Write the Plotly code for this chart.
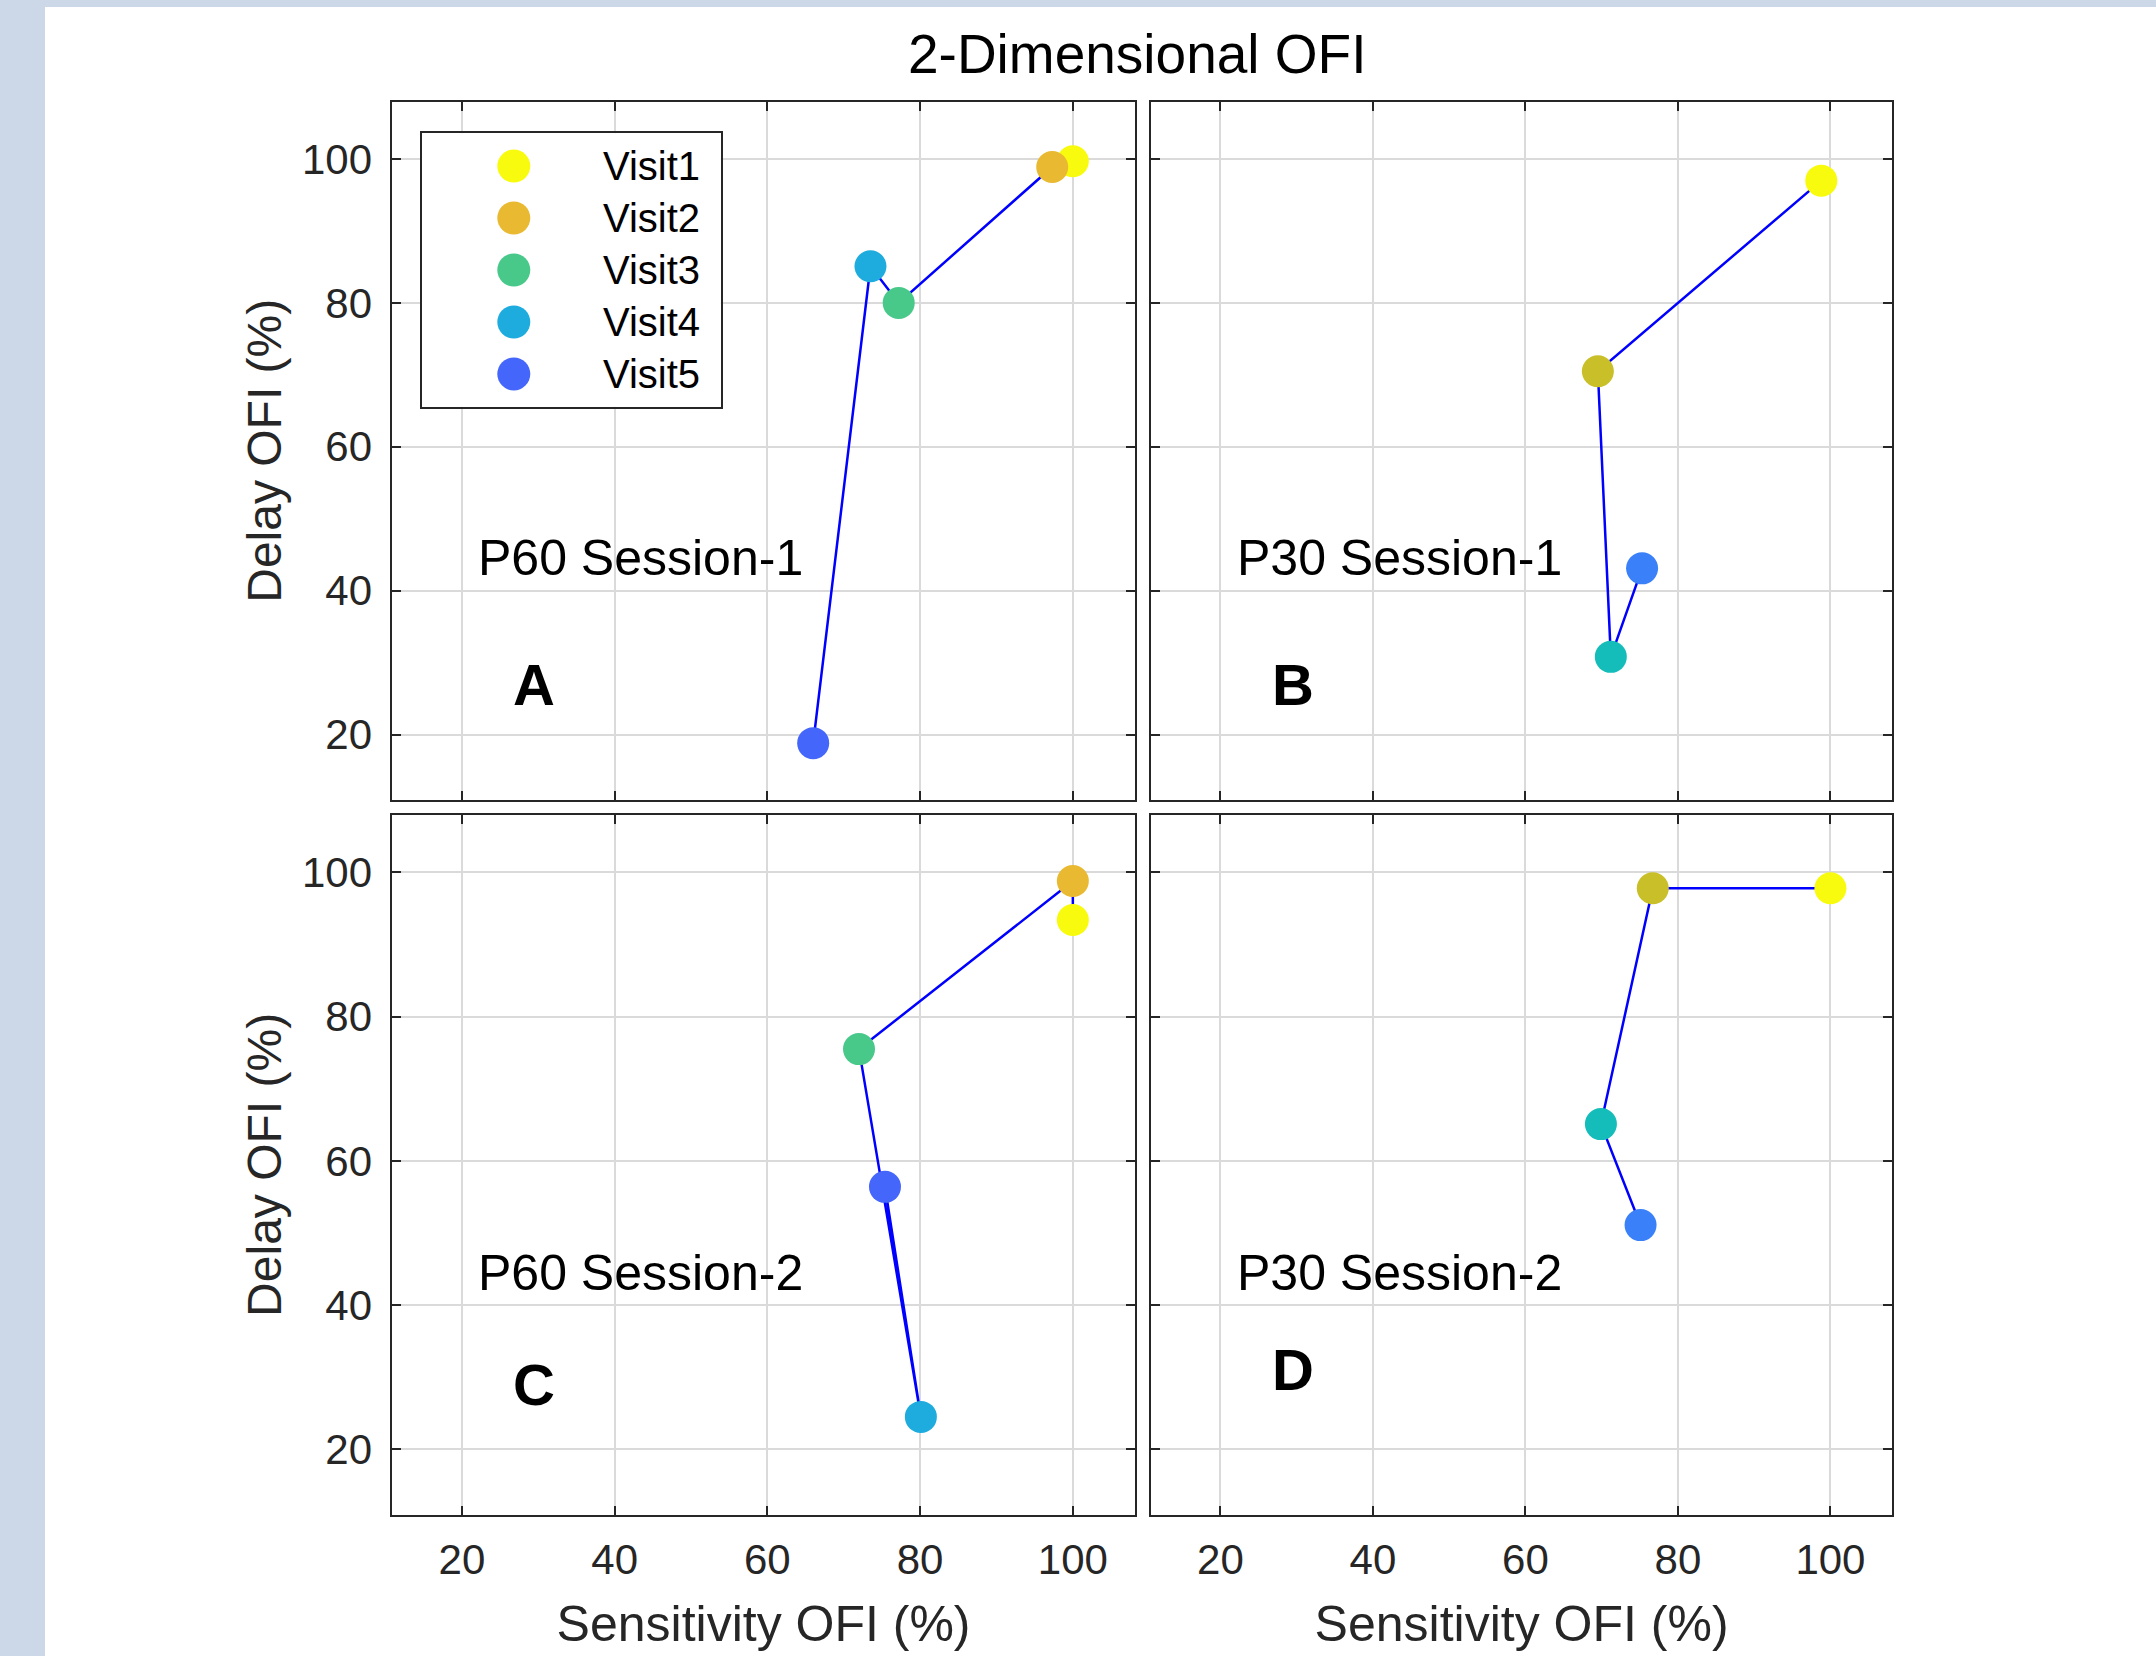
import plotly.graph_objects as go

W, H = 2156, 1656

# ---------------- data ----------------
visit_labels = ["Visit1", "Visit2", "Visit3", "Visit4", "Visit5"]
colors_5 = ["#F9FB0E", "#E9B931", "#48C98A", "#1EACDE", "#4466FA"]
colors_4 = ["#F9FB0E", "#C9BF28", "#14BDB9", "#3A80F8"]

# Panel A: P60 Session-1
sens_A = [100.0, 97.3, 77.2, 73.5, 66.0]
delay_A = [99.7, 98.9, 80.0, 85.1, 18.8]
# Panel B: P30 Session-1
sens_B = [98.8, 69.5, 71.2, 75.3]
delay_B = [97.0, 70.5, 30.8, 43.1]
# Panel C: P60 Session-2
sens_C = [100.0, 100.0, 72.0, 80.1, 75.4]
delay_C = [93.4, 98.8, 75.5, 24.5, 56.4]
# Panel D: P30 Session-2
sens_D = [100.0, 76.7, 69.9, 75.1]
delay_D = [97.8, 97.8, 65.1, 51.1]

panel_names = ["P60 Session-1", "P30 Session-1", "P60 Session-2", "P30 Session-2"]
panel_letters = ["A", "B", "C", "D"]
x_ticks = [20, 40, 60, 80, 100]
y_ticks = [20, 40, 60, 80, 100]
x_title = "Sensitivity OFI (%)"
y_title = "Delay OFI (%)"
main_title = "2-Dimensional OFI"

# ---------------- layout helpers ----------------
FONT = "Liberation Sans, Arial, sans-serif"
AX_RANGE_X = [10.9, 108.1]
AX_RANGE_Y = [10.9, 108.0]
TXT = "#262626"


def xdom(x0, x1):
    return [x0 / W, x1 / W]


def ydom(ytop, ybot):
    return [1 - ybot / H, 1 - ytop / H]


panels = [
    dict(sx=sens_A, sy=delay_A, cols=colors_5, xd=xdom(392.4, 1134.7), yd=ydom(101.5, 800.0)),
    dict(sx=sens_B, sy=delay_B, cols=colors_4, xd=xdom(1151.0, 1892.2), yd=ydom(101.5, 800.0)),
    dict(sx=sens_C, sy=delay_C, cols=colors_5, xd=xdom(392.4, 1134.7), yd=ydom(814.7, 1515.0)),
    dict(sx=sens_D, sy=delay_D, cols=colors_4, xd=xdom(1151.0, 1892.2), yd=ydom(814.7, 1515.0)),
]
letter_y = [27.0, 27.0, 29.0, 31.1]

fig = go.Figure()
annotations = []
shapes = []

# white page over the light frame
shapes.append(dict(type="rect", xref="paper", yref="paper", layer="below",
                   x0=45 / W, x1=1, y0=0, y1=1 - 7 / H,
                   fillcolor="white", line=dict(width=0)))

for i, p in enumerate(panels):
    n = i + 1
    xa = "x" if n == 1 else f"x{n}"
    ya = "y" if n == 1 else f"y{n}"
    fig.add_trace(go.Scatter(x=p["sx"], y=p["sy"], mode="lines",
                             line=dict(color="#0000FF", width=2.5),
                             xaxis=xa, yaxis=ya, showlegend=False, hoverinfo="skip"))
    fig.add_trace(go.Scatter(x=p["sx"], y=p["sy"], mode="markers",
                             marker=dict(color=p["cols"], size=32, line=dict(width=0)),
                             xaxis=xa, yaxis=ya, showlegend=False))
    show_x = n in (3, 4)
    show_y = n in (1, 3)
    axcommon = dict(showgrid=True, gridcolor="#DADADA", gridwidth=1.5,
                    showline=True, linecolor=TXT, linewidth=2, mirror="ticks",
                    ticks="inside", ticklen=9, tickwidth=2, tickcolor=TXT,
                    zeroline=False, tickfont=dict(family=FONT, size=42, color=TXT))
    fig.layout[f"xaxis{'' if n == 1 else n}"] = dict(
        domain=p["xd"], range=AX_RANGE_X, tickvals=x_ticks, anchor=ya,
        showticklabels=show_x, ticklabelstandoff=7,
        title=dict(text=x_title if show_x else "", font=dict(family=FONT, size=50, color=TXT), standoff=24),
        **axcommon)
    fig.layout[f"yaxis{'' if n == 1 else n}"] = dict(
        domain=p["yd"], range=AX_RANGE_Y, tickvals=y_ticks, anchor=xa,
        showticklabels=show_y, ticklabelstandoff=10,
        title=dict(text=y_title if show_y else "", font=dict(family=FONT, size=48, color=TXT), standoff=5),
        **axcommon)
    annotations.append(dict(x=21.9, y=44.5, xref=xa, yref=ya, text=panel_names[i],
                            showarrow=False, xanchor="left", yanchor="middle",
                            font=dict(family=FONT, size=50, color="#000000")))
    annotations.append(dict(x=29.5, y=letter_y[i], xref=xa, yref=ya, text=f"<b>{panel_letters[i]}</b>",
                            showarrow=False, xanchor="center", yanchor="middle",
                            font=dict(family=FONT, size=58, color="#000000")))

# ---------------- custom legend (own axes inside panel A) ----------------
leg_x = xdom(421.7, 720.7)
leg_y = ydom(133.3, 406.7)
LEG_YR = [4.63, -0.63]
fig.layout["xaxis5"] = dict(domain=leg_x, range=[0, 1], anchor="y5", showgrid=False, zeroline=False,
                            showticklabels=False, ticks="", showline=True, mirror=True,
                            linecolor=TXT, linewidth=2, fixedrange=True)
fig.layout["yaxis5"] = dict(domain=leg_y, range=LEG_YR, anchor="x5", showgrid=False, zeroline=False,
                            showticklabels=False, ticks="", showline=True, mirror=True,
                            linecolor=TXT, linewidth=2, fixedrange=True)
# opaque white legend background (covers the panel grid lines)
fig.add_trace(go.Scatter(x=[0, 1, 1, 0, 0], y=[LEG_YR[0], LEG_YR[0], LEG_YR[1], LEG_YR[1], LEG_YR[0]],
                         mode="lines", fill="toself", fillcolor="white", line=dict(width=0),
                         xaxis="x5", yaxis="y5", showlegend=False, hoverinfo="skip"))
leg_idx = list(range(len(visit_labels)))
fig.add_trace(go.Scatter(x=[0.308] * len(visit_labels), y=leg_idx, mode="markers",
                         marker=dict(color=colors_5, size=33, line=dict(width=0)),
                         xaxis="x5", yaxis="y5", showlegend=False, hoverinfo="skip"))
for k, lab in enumerate(visit_labels):
    annotations.append(dict(x=0.6, y=k, xref="x5", yref="y5", text=lab, showarrow=False,
                            xanchor="left", yanchor="middle",
                            font=dict(family=FONT, size=40, color="#000000")))

annotations.append(dict(x=1136.7 / W, y=1 - 54 / H, xref="paper", yref="paper", text=main_title,
                        showarrow=False, xanchor="center", yanchor="middle",
                        font=dict(family=FONT, size=55, color="#000000")))

fig.update_layout(width=W, height=H, margin=dict(l=0, r=0, t=0, b=0),
                  paper_bgcolor="#CCD8E8", plot_bgcolor="white",
                  annotations=annotations, shapes=shapes, showlegend=False,
                  font=dict(family=FONT))

fig.write_html("out.html")
